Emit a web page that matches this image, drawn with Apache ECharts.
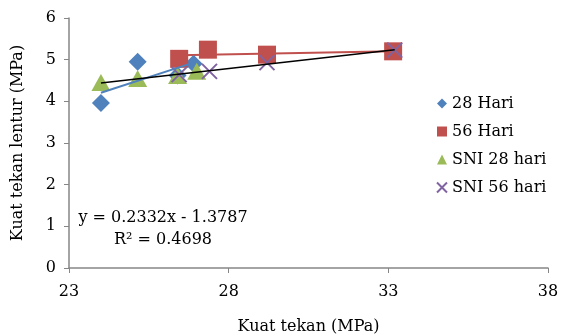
<!DOCTYPE html>
<html>
<head>
<meta charset="utf-8">
<script src="https://cdn.jsdelivr.net/npm/echarts@6/dist/echarts.min.js"></script>
<style>
	html, body { margin: 0; padding: 0; background: #fff; }
	#chart { width: 567px; height: 334px; }
</style>
</head>
<body>
<div id="chart"></div>
<script>
// data
var hari28X = [24.0, 25.15, 26.4, 26.9];
var hari28Y = [3.96, 4.95, 4.62, 4.9];
var hari56X = [26.45, 27.35, 29.2, 33.15];
var hari56Y = [5.02, 5.24, 5.12, 5.2];
var sni28X = [24.0, 25.15, 26.4, 27.0];
var sni28Y = [4.45, 4.55, 4.62, 4.72];
var sni56X = [26.45, 27.4, 29.2, 33.2];
var sni56Y = [4.64, 4.72, 4.93, 5.23];
var eqText = ['y = 0.2332x - 1.3787', 'R\u00b2 = 0.4698'];

var serif = '"DejaVu Serif", "Liberation Serif", serif';

function pairs(xs, ys) {
	return xs.map(function(x, i) { return [x, ys[i]]; });
}

// linear trendline from min x to max x
function trend(xs, ys) {
	var n = xs.length, mx = 0, my = 0, sxx = 0, sxy = 0;
	for (var i = 0; i < n; i++) { mx += xs[i]; my += ys[i]; }
	mx /= n; my /= n;
	for (var j = 0; j < n; j++) {
		sxx += (xs[j] - mx) * (xs[j] - mx);
		sxy += (xs[j] - mx) * (ys[j] - my);
	}
	var b = sxy / sxx, a = my - b * mx;
	var x0 = Math.min.apply(null, xs), x1 = Math.max.apply(null, xs);
	return [[x0, a + b * x0], [x1, a + b * x1]];
}

var crossPath = 'path://M0,0 L10,10 M10,0 L0,10';

var myChart = echarts.init(document.getElementById('chart'));
var option = {
	animation: false,
	grid: { left: 69, right: 19, top: 18, bottom: 66, outerBoundsMode: 'none' },
	legend: {
		data: ['28 Hari', '56 Hari', 'SNI 28 hari', 'SNI 56 hari'],
		orient: 'vertical',
		left: 431,
		top: 89,
		itemGap: 9,
		itemWidth: 10,
		itemHeight: 10,
		textStyle: { fontFamily: serif, fontSize: 16, lineHeight: 19, color: '#000' }
	},
	xAxis: {
		type: 'value',
		min: 23, max: 38, interval: 5,
		name: 'Kuat tekan (MPa)',
		nameLocation: 'middle',
		nameGap: 51,
		nameTextStyle: { fontFamily: serif, fontSize: 16, color: '#000' },
		axisLine: { lineStyle: { color: '#868686', width: 1.5 } },
		axisTick: { show: true, length: 5, lineStyle: { color: '#868686' } },
		axisLabel: { fontFamily: serif, fontSize: 16, color: '#000', margin: 16 },
		splitLine: { show: false }
	},
	yAxis: {
		type: 'value',
		min: 0, max: 6, interval: 1,
		name: 'Kuat tekan lentur (MPa)',
		nameLocation: 'middle',
		nameGap: 43,
		nameTextStyle: { fontFamily: serif, fontSize: 16, color: '#000' },
		axisLine: { show: true, lineStyle: { color: '#868686', width: 1.5 } },
		axisTick: { show: true, length: 5, lineStyle: { color: '#868686' } },
		axisLabel: { fontFamily: serif, fontSize: 16, color: '#000', margin: 13 },
		splitLine: { show: false }
	},
	graphic: [{
		type: 'text', x: 163, y: 218,
		style: { text: eqText[0], font: '16px ' + serif, fill: '#000', align: 'center', verticalAlign: 'middle' }
	}, {
		type: 'text', x: 163, y: 240,
		style: { text: eqText[1], font: '16px ' + serif, fill: '#000', align: 'center', verticalAlign: 'middle' }
	}],
	series: [{
		name: '28 Hari', type: 'scatter', symbol: 'diamond', symbolSize: 18, z: 2,
		itemStyle: { color: '#4F81BD', opacity: 1 },
		data: pairs(hari28X, hari28Y)
	}, {
		name: '56 Hari', type: 'scatter', symbol: 'rect', symbolSize: 18, z: 2,
		itemStyle: { color: '#C0504D', opacity: 1 },
		data: pairs(hari56X, hari56Y)
	}, {
		name: 'SNI 28 hari', type: 'scatter', symbol: 'triangle', symbolSize: [19, 17], z: 3,
		itemStyle: { color: '#9BBB59', opacity: 1 },
		data: pairs(sni28X, sni28Y)
	}, {
		name: 'SNI 56 hari', type: 'scatter', symbol: crossPath, symbolSize: 15, z: 4,
		itemStyle: { color: 'rgba(0,0,0,0)', borderColor: '#8064A2', borderWidth: 2, opacity: 1 },
		data: pairs(sni56X, sni56Y)
	}, {
		name: 'trend28', type: 'line', showSymbol: false, z: 5,
		lineStyle: { color: '#4F81BD', width: 2 },
		data: trend(hari28X, hari28Y)
	}, {
		name: 'trend56', type: 'line', showSymbol: false, z: 1,
		lineStyle: { color: '#C0504D', width: 2 },
		data: trend(hari56X, hari56Y)
	}, {
		name: 'trendSNI', type: 'line', showSymbol: false, z: 6,
		lineStyle: { color: '#000', width: 1.5 },
		data: trend(sni28X.concat(sni56X), sni28Y.concat(sni56Y))
	}]
};
myChart.setOption(option);
</script>
</body>
</html>
